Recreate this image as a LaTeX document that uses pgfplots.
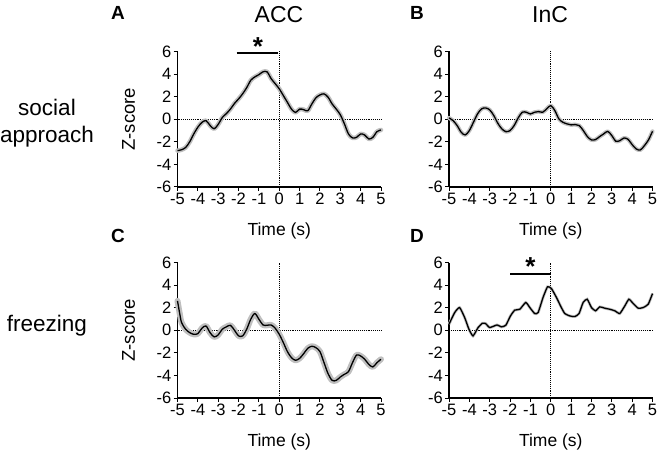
\documentclass[border=0pt]{standalone}
\usepackage{pgfplots}
\pgfplotsset{compat=1.18}
\usepackage{fontspec}
\setmainfont{Liberation Sans}

\pgfplotstableread{
x y
-5 -2.78
-4.8 -2.7
-4.6 -2.5
-4.4 -2.0
-4.2 -1.3
-4.0 -0.7
-3.8 -0.28
-3.6 -0.12
-3.4 -0.55
-3.2 -0.85
-3.0 -0.45
-2.8 0.15
-2.6 0.5
-2.4 0.9
-2.2 1.4
-2.0 1.8
-1.8 2.25
-1.6 2.8
-1.4 3.45
-1.2 3.75
-1.0 3.95
-0.8 4.2
-0.6 4.2
-0.4 3.6
-0.2 3.15
0 2.7
0.2 2.1
0.4 1.5
0.6 0.9
0.8 0.6
1.0 0.9
1.2 0.85
1.4 0.75
1.6 1.35
1.8 1.9
2.0 2.15
2.2 2.25
2.4 1.95
2.6 1.35
2.8 0.9
3.0 0.4
3.2 -0.4
3.4 -1.3
3.6 -1.65
3.8 -1.6
4.0 -1.3
4.2 -1.4
4.4 -1.75
4.6 -1.6
4.8 -1.1
5.0 -0.95
}\dataA

\pgfplotstableread{
x y
-5 0.12
-4.8 -0.12
-4.6 -0.56
-4.4 -1.15
-4.2 -1.39
-4.0 -1.0
-3.8 -0.27
-3.6 0.47
-3.4 0.92
-3.2 1.0
-3.0 0.83
-2.8 0.33
-2.6 -0.36
-2.4 -0.86
-2.2 -1.1
-2.0 -1.0
-1.8 -0.56
-1.6 0.12
-1.4 0.62
-1.2 0.62
-1.0 0.47
-0.8 0.62
-0.6 0.68
-0.4 0.62
-0.2 0.92
0 1.21
0.2 0.77
0.4 0.03
0.6 -0.27
0.8 -0.41
1.0 -0.5
1.2 -0.47
1.4 -0.56
1.6 -1.0
1.8 -1.54
2.0 -1.83
2.2 -1.8
2.4 -1.54
2.6 -1.3
2.8 -1.07
3.0 -1.45
3.2 -1.95
3.4 -1.89
3.6 -1.66
3.8 -1.78
4.0 -2.25
4.2 -2.63
4.4 -2.72
4.6 -2.34
4.8 -1.83
5.0 -1.07
}\dataB

\pgfplotstableread{
x y
-5 2.6
-4.9 1.57
-4.8 0.68
-4.6 0.09
-4.4 -0.21
-4.2 -0.36
-4.0 -0.3
-3.8 0.18
-3.6 0.38
-3.4 -0.21
-3.2 -0.59
-3.0 -0.41
-2.8 0.09
-2.6 0.3
-2.4 0.44
-2.2 0.0
-2.0 -0.5
-1.8 -0.5
-1.6 0.09
-1.4 0.98
-1.2 1.48
-1.0 0.98
-0.8 0.47
-0.6 0.44
-0.4 0.47
-0.2 0.18
0 -0.36
0.2 -1.09
0.4 -1.89
0.6 -2.43
0.8 -2.66
1.0 -2.49
1.2 -2.07
1.4 -1.6
1.6 -1.42
1.8 -1.54
2.0 -1.89
2.2 -2.87
2.4 -3.85
2.6 -4.44
2.8 -4.44
3.0 -4.14
3.2 -3.9
3.4 -3.67
3.6 -2.87
3.8 -2.19
4.0 -2.28
4.2 -2.57
4.4 -3.02
4.6 -3.25
4.8 -2.87
5.0 -2.57
}\dataC

\pgfplotstableread{
x y
-5 0.53
-4.72 1.57
-4.48 2.01
-4.23 1.12
-4.02 0.09
-3.82 -0.5
-3.57 0.24
-3.36 0.62
-3.2 0.59
-3.0 0.24
-2.64 0.47
-2.43 0.3
-2.21 0.44
-1.98 1.27
-1.77 1.78
-1.52 1.86
-1.23 2.46
-1.03 2.01
-0.79 1.48
-0.62 1.57
-0.38 2.9
-0.16 3.85
0.03 3.7
0.28 2.9
0.52 2.01
0.69 1.48
0.93 1.27
1.18 1.21
1.39 1.48
1.59 2.46
1.79 2.75
2.0 2.01
2.2 1.72
2.41 2.07
2.66 1.95
2.9 1.86
3.15 1.72
3.39 1.48
3.64 2.16
3.84 2.75
4.05 2.37
4.3 1.95
4.54 2.01
4.79 2.31
5.0 3.25
}\dataD

\pgfplotsset{
  panel/.style={
    scale only axis, width=203.5pt, height=135.5pt,
    anchor=south west,
    xmin=-5, xmax=5, ymin=-6, ymax=6,
    axis lines=left, axis line style={-, line width=1.1pt, black},
    xtick={-5,...,5}, ytick={-6,-4,...,6},
    tick align=outside, major tick length=4pt,
    tick style={black, line width=1pt},
    tick label style={font=\fontsize{16.5}{18}\selectfont},
    xticklabel style={inner sep=2pt},
    yticklabel style={inner sep=2pt},
    /pgf/number format/assume math mode=true,
    xlabel={Time (s)},
    xlabel style={font=\fontsize{17.5}{19}\selectfont, yshift=-12pt},
    ylabel style={font=\fontsize{18.5}{20}\selectfont},
    ylabel shift=16pt,
    clip=false,
  },
  zline/.style={black, densely dotted, line width=0.9pt},
  band/.style={black!25, line width=#1, smooth, line cap=round, line join=round},
  curve/.style={black, line width=1.3pt, smooth, line join=round},
}

\begin{document}
\begin{tikzpicture}[x=1pt,y=1pt]
\useasboundingbox (0,0) rectangle (663,455);

% Panel A
\begin{axis}[panel, at={(177.5pt,268pt)}, ylabel={Z-score}]
\addplot[zline] coordinates {(-5,0) (5,0)};
\addplot[zline] coordinates {(0,-6) (0,6)};
\addplot[band=4.5pt] table {\dataA};
\addplot[curve] table {\dataA};
\addplot[black, line width=2pt] coordinates {(-2.1,5.85) (-0.05,5.85)};
\node[font=\bfseries\fontsize{26}{26}\selectfont] at (axis cs:-1.05,6.45) {*};
\end{axis}

% Panel B
\begin{axis}[panel, at={(449pt,268pt)}]
\addplot[zline] coordinates {(-5,0) (5,0)};
\addplot[zline] coordinates {(0,-6) (0,6)};
\addplot[band=4pt] table {\dataB};
\addplot[curve] table {\dataB};
\end{axis}

% Panel C
\begin{axis}[panel, at={(177.5pt,57pt)}, ylabel={Z-score}]
\addplot[zline] coordinates {(-5,0) (5,0)};
\addplot[zline] coordinates {(0,-6) (0,6)};
\addplot[band=6pt] table {\dataC};
\addplot[curve] table {\dataC};
\end{axis}

% Panel D
\begin{axis}[panel, at={(449pt,57pt)}]
\addplot[zline] coordinates {(-5,0) (5,0)};
\addplot[zline] coordinates {(0,-6) (0,6)};
\addplot[black!25, line width=2.8pt, smooth, tension=0.3] table {\dataD};
\addplot[black, line width=1.3pt, smooth, tension=0.3] table {\dataD};
\addplot[black, line width=2pt] coordinates {(-2.0,5.0) (0,5.0)};
\node[font=\bfseries\fontsize{26}{26}\selectfont] at (axis cs:-1.0,5.6) {*};
\end{axis}

% Titles and letters
\node[font=\bfseries\fontsize{19}{19}\selectfont] at (118,442) {A};
\node[font=\bfseries\fontsize{19}{19}\selectfont] at (417,442) {B};
\node[font=\bfseries\fontsize{19}{19}\selectfont] at (118,219) {C};
\node[font=\bfseries\fontsize{19}{19}\selectfont] at (417,219) {D};
\node[font=\fontsize{23}{23}\selectfont] at (279,440) {ACC};
\node[font=\fontsize{23}{23}\selectfont] at (550,440) {InC};

% Row labels
\node[font=\fontsize{22.5}{27}\selectfont, align=center] at (47,332) {social\\approach};
\node[font=\fontsize{22.5}{27}\selectfont] at (47,129) {freezing};
\end{tikzpicture}
\end{document}
